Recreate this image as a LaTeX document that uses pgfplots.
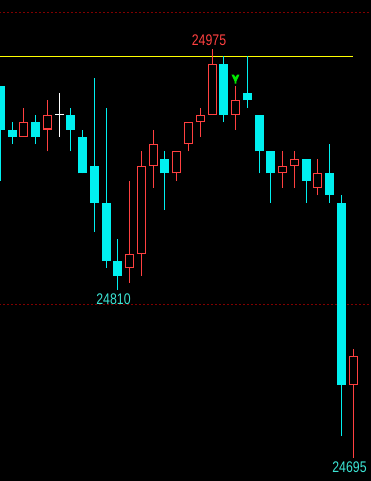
\documentclass[border=0pt]{standalone}
\usepackage{pgfplots}
\pgfplotsset{compat=1.18}
\usepackage{pgfplotstable}
\usepackage{graphicx}
\usepackage{fontspec}
\setmainfont{Liberation Sans}
\definecolor{cy}{RGB}{0,240,240}
\definecolor{rd}{RGB}{255,64,64}
\definecolor{gridred}{RGB}{128,0,0}
\definecolor{lbl}{RGB}{60,228,212}
\definecolor{arrowgreen}{RGB}{0,235,0}
\definecolor{hiline}{RGB}{255,255,0}

\pgfdeclareplotmark{chev}{%
  \pgfpathmoveto{\pgfpoint{-4pt}{4.5pt}}%
  \pgfpathlineto{\pgfpoint{-1.6pt}{4.5pt}}%
  \pgfpathlineto{\pgfpoint{0pt}{1.8pt}}%
  \pgfpathlineto{\pgfpoint{1.6pt}{4.5pt}}%
  \pgfpathlineto{\pgfpoint{4pt}{4.5pt}}%
  \pgfpathlineto{\pgfpoint{0.9pt}{-2.2pt}}%
  \pgfpathlineto{\pgfpoint{0.9pt}{-4.5pt}}%
  \pgfpathlineto{\pgfpoint{-0.9pt}{-4.5pt}}%
  \pgfpathlineto{\pgfpoint{-0.9pt}{-2.2pt}}%
  \pgfpathclose
  \pgfusepathqfill}

% bearish (cyan, filled) candles: bar index, screen position, open, high, low, close
\pgfplotstableread{
i x O H L C
0 0.5 24950 24950 24885 24920
1 12.5 24920 24925 24910 24915
3 35.5 24925 24930 24910 24915
6 70.5 24930 24935 24905 24920
7 82.5 24915 24920 24890 24890
8 94.5 24895 24955 24850 24870
9 106.5 24870 24935 24825 24830
10 117.5 24830 24845 24810 24820
14 164.5 24900 24905 24865 24890
19 223.5 24965 24970 24925 24930
21 247.5 24945 24970 24935 24940
22 259.5 24930 24930 24890 24905
23 270.5 24905 24905 24870 24890
26 306.5 24900 24900 24870 24885
28 329.5 24890 24910 24870 24875
29 341.5 24870 24875 24710 24745
}\bear

% bullish (red, hollow) candles
\pgfplotstableread{
i x O H L C
2 23.5 24915 24935 24915 24925
4 47.5 24920 24940 24905 24930
11 129.5 24825 24885 24815 24835
12 141.5 24835 24905 24820 24895
13 153.5 24895 24920 24880 24910
15 176.5 24890 24905 24885 24905
16 188.5 24910 24925 24905 24925
17 200.5 24925 24935 24915 24930
18 212.5 24930 24975 24930 24965
20 235.5 24930 24950 24920 24940
24 282.5 24890 24905 24880 24895
25 294.5 24895 24905 24880 24900
27 317.5 24880 24900 24875 24890
30 353.5 24745 24770 24695 24765
}\bull

% doji (white)
\pgfplotstableread{
i x O H L C
5 59.5 24930 24945 24915 24930
}\doji

\begin{document}
\begin{tikzpicture}
\begin{axis}[
  scale only axis,
  width=371pt, height=481pt,
  xmin=0, xmax=371,
  ymin=24679.29, ymax=25008.69,
  axis background/.style={fill=black},
  axis line style={draw=none},
  xtick=\empty, ytick=\empty,
]
% dashed reference lines
\addplot[gridred, line width=1pt, dash pattern=on 2pt off 2pt] coordinates {(-5,25000) (380,25000)};
\addplot[gridred, line width=1pt, dash pattern=on 2pt off 2pt] coordinates {(-5,24800) (380,24800)};
% yellow high line
\addplot[hiline, line width=1pt] coordinates {(-5,24970) (353.5,24970)};

% bearish wicks and bodies
\addplot[draw=none, error bars/.cd, y dir=plus, y explicit, error mark=none,
  error bar style={draw=cy, line width=1pt}]
  table[x=x, y=L, y error plus expr={\thisrow{H}-\thisrow{L}}] {\bear};
\addplot[draw=none, error bars/.cd, y dir=plus, y explicit, error mark=none,
  error bar style={draw=cy, line width=9pt}]
  table[x=x, y=C, y error plus expr={\thisrow{O}-\thisrow{C}}] {\bear};

% bullish wicks and hollow bodies
\addplot[draw=none, error bars/.cd, y dir=plus, y explicit, error mark=none,
  error bar style={draw=rd, line width=1pt}]
  table[x=x, y=L, y error plus expr={\thisrow{H}-\thisrow{L}}] {\bull};
\addplot[draw=none, error bars/.cd, y dir=plus, y explicit, error mark=none,
  error bar style={draw=rd, line width=9pt}]
  table[x=x, y=O, y error plus expr={\thisrow{C}-\thisrow{O}}] {\bull};
\addplot[draw=none, error bars/.cd, y dir=plus, y explicit, error mark=none,
  error bar style={draw=black, line width=7pt}]
  table[x=x, y expr={\thisrow{O}+0.7}, y error plus expr={\thisrow{C}-\thisrow{O}-1.4}] {\bull};

% doji
\addplot[draw=none, error bars/.cd, y dir=plus, y explicit, error mark=none,
  error bar style={draw=white, line width=1pt}]
  table[x=x, y=L, y error plus expr={\thisrow{H}-\thisrow{L}}] {\doji};
\addplot[only marks, mark=-, mark size=4.5pt, mark options={draw=white, line width=1pt}]
  table[x=x, y=O] {\doji};

% signal arrow
\addplot[only marks, mark=chev, mark options={fill=arrowgreen, draw=none}] coordinates {(235.5,24954.5)};

% labels
\node[text=rd, inner sep=0pt, font=\fontsize{15.4}{15.4}\selectfont] at (axis cs:209,24981.4) {\scalebox{0.8}[1]{24975}};
\node[text=lbl, inner sep=0pt, font=\fontsize{15.4}{15.4}\selectfont] at (axis cs:113.5,24804.0) {\scalebox{0.8}[1]{24810}};
\node[text=lbl, inner sep=0pt, font=\fontsize{15.4}{15.4}\selectfont] at (axis cs:349.5,24688.6) {\scalebox{0.8}[1]{24695}};
\end{axis}
\end{tikzpicture}
\end{document}
